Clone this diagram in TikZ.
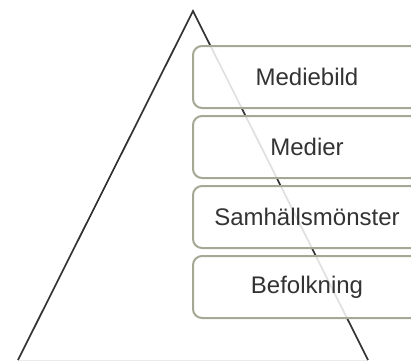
\documentclass[tikz,border=0pt]{standalone}
\usepackage{fontspec}
\setmainfont{Liberation Sans}
\usetikzlibrary{positioning}
\definecolor{boxline}{RGB}{166,168,150}
\definecolor{txt}{RGB}{51,51,51}
\tikzset{%
	level/.style  = {draw=boxline, line width=2pt, rectangle, rounded corners=9pt,
		fill=white, fill opacity=0.85, text opacity=1, text=txt,
		minimum width=228pt, minimum height=62pt, font=\fontsize{24}{27}\selectfont},
	edge/.style   = {draw=txt, line width=1.7pt, line join=miter},
	base/.style   = {draw=black!8, line width=1pt}
}
\begin{document}
\begin{tikzpicture}[x=1pt,y=-1pt]
			\useasboundingbox (0,0) rectangle (411,361);
			\clip (0,0) rectangle (411,361);
			\coordinate (top) at (193,11);
			\coordinate (left) at (18,360);
			\coordinate (right) at (368,360);

			\draw[base] (left) -- (right);
			\draw[edge] (left) -- (top) -- (right);

			\node[level] (bild) at (307,77) {Mediebild};
			\node[level, below=6pt of bild] (medier) {Medier};
			\node[level, below=6pt of medier] (monster) {Samhällsmönster};
			\node[level, below=6pt of monster] (folk) {Befolkning};
		\end{tikzpicture}
\end{document}
